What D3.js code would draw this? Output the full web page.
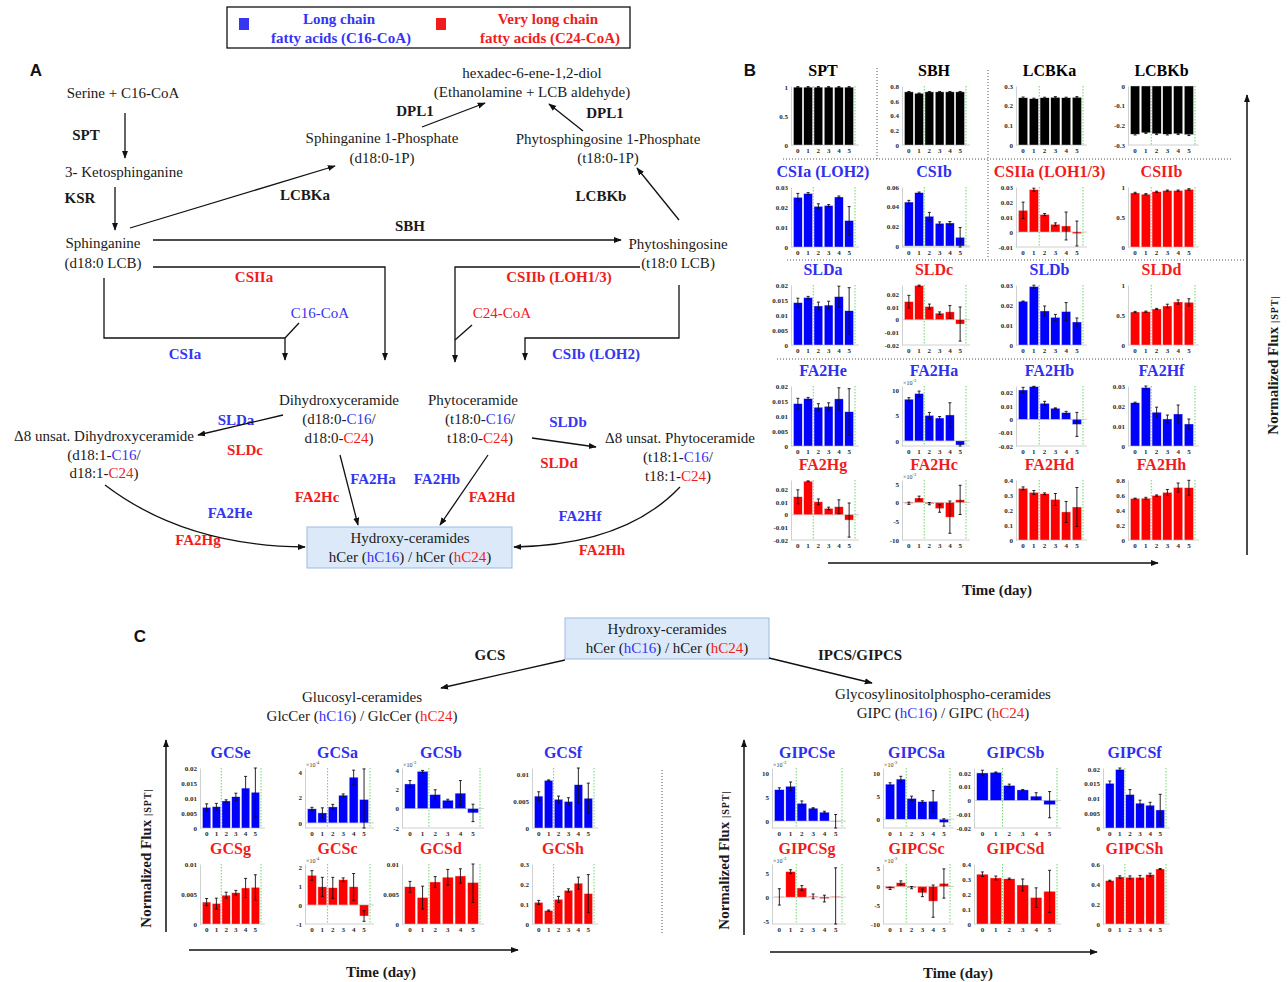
<!DOCTYPE html>
<html>
<head>
<meta charset="utf-8">
<script src="https://cdn.jsdelivr.net/npm/d3@7"></script>
<style>
  body { margin: 0; background: #fff; }
  svg { display: block; }
</style>
</head>
<body>
<div id="chart"></div>
<script>
// ---------- data ----------
const days = [0, 1, 2, 3, 4, 5];

// Panel B, read row by row (left to right)
const bTitles = ["SPT", "SBH", "LCBKa", "LCBKb",
  "CSIa (LOH2)", "CSIb", "CSIIa (LOH1/3)", "CSIIb",
  "SLDa", "SLDc", "SLDb", "SLDd",
  "FA2He", "FA2Ha", "FA2Hb", "FA2Hf",
  "FA2Hg", "FA2Hc", "FA2Hd", "FA2Hh"];
// none = shared step, long = C16-CoA, vlong = C24-CoA
const bChain = ["none", "none", "none", "none",
  "long", "long", "vlong", "vlong",
  "long", "vlong", "long", "vlong",
  "long", "long", "long", "long",
  "vlong", "vlong", "vlong", "vlong"];
const bValues = [
  [1, 1, 1, 1, 1, 1],
  [0.72, 0.70, 0.72, 0.72, 0.72, 0.72],
  [0.24, 0.235, 0.24, 0.242, 0.24, 0.242],
  [-0.245, -0.238, -0.243, -0.245, -0.243, -0.247],
  [0.0248, 0.0267, 0.0203, 0.0207, 0.025, 0.0132],
  [0.0447, 0.0542, 0.0302, 0.023, 0.0234, 0.0088],
  [0.0144, 0.0282, 0.0116, 0.0051, 0.004, -0.001],
  [0.90, 0.88, 0.92, 0.94, 0.94, 0.96],
  [0.0141, 0.0158, 0.013, 0.0133, 0.0161, 0.0114],
  [0.0143, 0.027, 0.0104, 0.0052, 0.0062, -0.0034],
  [0.0218, 0.0292, 0.017, 0.0138, 0.0167, 0.0115],
  [0.55, 0.555, 0.60, 0.65, 0.717, 0.711],
  [0.0141, 0.0158, 0.0129, 0.0132, 0.0157, 0.0114],
  [8.2, 9.3, 5.0, 4.5, 5.1, -0.8],
  [0.022, 0.0245, 0.012, 0.0083, 0.005, -0.0038],
  [0.0216, 0.0292, 0.0169, 0.0135, 0.016, 0.011],
  [0.0142, 0.0265, 0.0102, 0.005, 0.0063, -0.0042],
  [-0.2, 1.2, -0.3, -1.6, -3.9, 0.7],
  [0.344, 0.317, 0.308, 0.27, 0.187, 0.22],
  [0.553, 0.557, 0.593, 0.634, 0.70, 0.696]
];
const bErrors = [
  [0.01, 0.01, 0.01, 0.01, 0.01, 0.01],
  [0.006, 0.005, 0.005, 0.006, 0.005, 0.006],
  [0.004, 0.003, 0.003, 0.004, 0.003, 0.004],
  [0.004, 0.003, 0.004, 0.004, 0.004, 0.005],
  [0.002, 0.0005, 0.0013, 0.0005, 0.0005, 0.007],
  [0.0017, 0.0007, 0.004, 0.0015, 0.0015, 0.01],
  [0.0055, 0.001, 0.0007, 0.001, 0.0093, 0.0083],
  [0.012, 0.01, 0.01, 0.01, 0.01, 0.012],
  [0.0015, 0.0004, 0.0013, 0.0013, 0.0035, 0.0077],
  [0.005, 0.0004, 0.002, 0.001, 0.005, 0.0135],
  [0.0002, 0.0007, 0.0025, 0.0015, 0.0045, 0.002],
  [0.01, 0.01, 0.01, 0.03, 0.035, 0.06],
  [0.0018, 0.0004, 0.0012, 0.0012, 0.0037, 0.0077],
  [0.3, 0.5, 0.6, 0.3, 2.4, 0.2],
  [0.002, 0.0003, 0.0015, 0.0003, 0.001, 0.009],
  [0.0003, 0.0008, 0.0025, 0.002, 0.0045, 0.0025],
  [0.0055, 0.0003, 0.0023, 0.001, 0.0055, 0.0135],
  [0.3, 0.5, 0.3, 1.0, 4.3, 3.9],
  [0.01, 0.013, 0.006, 0.04, 0.07, 0.13],
  [0.005, 0.012, 0.008, 0.04, 0.06, 0.1]
];
const bTicks = [
  [0, 0.5, 1], [0, 0.2, 0.4, 0.6, 0.8], [0, 0.1, 0.2, 0.3], [-0.3, -0.2, -0.1, 0],
  [0, 0.01, 0.02, 0.03], [0, 0.02, 0.04, 0.06], [-0.01, 0, 0.01, 0.02, 0.03], [0, 0.5, 1],
  [0, 0.005, 0.01, 0.015, 0.02], [-0.02, -0.01, 0, 0.01, 0.02], [0, 0.01, 0.02, 0.03], [0, 0.5, 1],
  [0, 0.005, 0.01, 0.015, 0.02], [0, 5, 10], [-0.02, -0.01, 0, 0.01, 0.02], [0, 0.01, 0.02, 0.03],
  [-0.02, -0.01, 0, 0.01, 0.02], [-10, -5, 0, 5], [0, 0.1, 0.2, 0.3, 0.4], [0, 0.2, 0.4, 0.6, 0.8]
];
// power of ten printed above the axis (0 = none)
const bScale = [0, 0, 0, 0, 0, 0, 0, 0, 0, 0, 0, 0, 0, -3, 0, 0, 0, -3, 0, 0];

// Panel C, glucosyl-ceramide branch
const gcsTitles = ["GCSe", "GCSa", "GCSb", "GCSf", "GCSg", "GCSc", "GCSd", "GCSh"];
const gcsChain = ["long", "long", "long", "long", "vlong", "vlong", "vlong", "vlong"];
const gcsValues = [
  [0.00685, 0.0071, 0.009, 0.0104, 0.0133, 0.0119],
  [1.1, 0.78, 1.25, 2.17, 3.58, 1.83],
  [2.55, 3.85, 1.45, 0.87, 1.6, -0.44],
  [0.0059, 0.0088, 0.0053, 0.0049, 0.008, 0.0055],
  [0.00365, 0.0034, 0.0048, 0.0052, 0.006, 0.0061],
  [1.55, 0.95, 0.9, 1.32, 0.95, -0.58],
  [0.0062, 0.0044, 0.007, 0.0078, 0.008, 0.0069],
  [0.108, 0.067, 0.123, 0.168, 0.204, 0.152]
];
const gcsErrors = [
  [0.0012, 0.0011, 0.0004, 0.0012, 0.0039, 0.0083],
  [0.12, 0.4, 0.2, 0.1, 0.55, 2.4],
  [0.35, 0.1, 0.5, 0.1, 1.3, 0.9],
  [0.0008, 0.0001, 0.0006, 0.0007, 0.0034, 0.0028],
  [0.0006, 0.0009, 0.0005, 0.0004, 0.0016, 0.0021],
  [0.25, 0.5, 0.55, 0.1, 0.7, 0.28],
  [0.0009, 0.0019, 0.0009, 0.0013, 0.0012, 0.0033],
  [0.01, 0.003, 0.015, 0.008, 0.03, 0.095]
];
const gcsTicks = [
  [0, 0.005, 0.01, 0.015, 0.02], [0, 2, 4], [-2, 0, 2, 4], [0, 0.005, 0.01],
  [0, 0.005, 0.01], [-1, 0, 1, 2], [0, 0.005, 0.01], [0, 0.1, 0.2, 0.3]
];
const gcsScale = [0, -4, -3, 0, 0, -4, 0, 0];

// Panel C, GIPC branch
const gipcsTitles = ["GIPCSe", "GIPCSa", "GIPCSb", "GIPCSf", "GIPCSg", "GIPCSc", "GIPCSd", "GIPCSh"];
const gipcsChain = ["long", "long", "long", "long", "vlong", "vlong", "vlong", "vlong"];
const gipcsValues = [
  [6.5, 7.2, 3.66, 2.66, 1.83, -0.05],
  [7.6, 8.7, 4.5, 3.8, 3.9, -0.7],
  [0.0199, 0.0203, 0.0108, 0.0076, 0.0031, -0.0031],
  [0.0151, 0.0198, 0.0113, 0.0084, 0.0077, 0.0061],
  [0.05, 5.3, 1.9, 0.15, -0.3, 0.1],
  [-0.5, 1.0, -0.3, -1.7, -3.9, 0.8],
  [0.332, 0.307, 0.301, 0.26, 0.176, 0.218],
  [0.433, 0.47, 0.466, 0.466, 0.493, 0.55]
];
const gipcsErrors = [
  [0.4, 0.9, 0.5, 0.1, 0.2, 1.4],
  [0.3, 0.6, 0.5, 0.2, 2.3, 0.8],
  [0.002, 0.0003, 0.001, 0.0002, 0.0025, 0.0095],
  [0.0008, 0.0006, 0.0017, 0.001, 0.001, 0.0053],
  [1.7, 0.4, 0.5, 0.5, 0.7, 6],
  [0.3, 0.5, 0.3, 1.0, 4.3, 3.9],
  [0.015, 0.013, 0.005, 0.04, 0.065, 0.14],
  [0.005, 0.012, 0.015, 0.02, 0.015, 0.005]
];
const gipcsTicks = [
  [0, 5, 10], [0, 5, 10], [-0.02, -0.01, 0, 0.01, 0.02], [0, 0.005, 0.01, 0.015, 0.02],
  [-5, 0, 5], [-10, -5, 0, 5], [0, 0.1, 0.2, 0.3, 0.4], [0, 0.2, 0.4, 0.6]
];
const gipcsScale = [-3, -3, 0, 0, -3, -3, 0, 0];

// ---------- layout ----------
const W = 1288, H = 982;
const serif = "'Liberation Serif', 'Times New Roman', serif";
const barColor = {none: "#000000", long: "#0000ff", vlong: "#ff0000"};
const textColor = {none: "#000000", long: "#2f2ff0", vlong: "#f01c1c"};
const BLUE = "#3535f2", RED = "#f01c1c";

// axis limits of each small chart
const bLimits = [
  [0, 1.02], [0, 0.8], [0, 0.3], [-0.3, 0],
  [0, 0.03], [-0.001, 0.06], [-0.01, 0.03], [0, 1],
  [0, 0.02], [-0.02, 0.0275], [0, 0.03], [0, 1],
  [0, 0.02], [-1, 10.8], [-0.02, 0.025], [0, 0.03],
  [-0.02, 0.0275], [-10, 6], [0, 0.4], [0, 0.8]
];
const gcsLimits = [[0, 0.02], [-0.4, 4.3], [-2, 4.2], [0, 0.0111], [0, 0.01], [-1, 2.15], [0, 0.01], [0, 0.3]];
const gipcsLimits = [[-1.45, 11], [-1.9, 11.1], [-0.02, 0.0235], [0, 0.0203], [-5.6, 6.9], [-10, 6], [0, 0.4], [0, 0.6]];

const bCols = [[791, 855], [902, 966], [1016, 1083], [1128, 1195]];
const bRows = [[86, 145], [187, 247], [285, 345], [386, 446], [480, 540]];
const gcsCols = [[200, 261], [305, 370], [402, 480], [532, 594]];
const gipcsCols = [[772, 842], [883, 950], [974, 1057], [1103, 1166]];
const cRows = [[768, 828], [864, 924]];

const svg = d3.select("#chart").append("svg")
  .attr("width", W).attr("height", H)
  .attr("font-family", serif);

svg.append("rect").attr("width", W).attr("height", H).attr("fill", "#fff");

const defs = svg.append("defs");
defs.append("marker")
  .attr("id", "head")
  .attr("viewBox", "0 0 10 10")
  .attr("refX", 9).attr("refY", 5)
  .attr("markerWidth", 8).attr("markerHeight", 8)
  .attr("markerUnits", "userSpaceOnUse")
  .attr("orient", "auto")
  .append("path").attr("d", "M0,1.2L10,5L0,8.8z").attr("fill", "#111");

// ---------- helpers ----------
function label(x, y, str, opt) {
  opt = opt || {};
  return svg.append("text")
    .attr("x", x).attr("y", y)
    .attr("text-anchor", opt.anchor || "middle")
    .attr("font-size", opt.size || 15)
    .attr("font-weight", opt.bold ? "bold" : "normal")
    .attr("font-family", opt.family || serif)
    .attr("fill", opt.color || "#1a1a1a")
    .text(str);
}

// text made of [string, colour] pieces
function rich(x, y, parts, size) {
  const t = svg.append("text")
    .attr("x", x).attr("y", y)
    .attr("text-anchor", "middle")
    .attr("font-size", size || 15)
    .attr("fill", "#1a1a1a");
  parts.forEach(p => t.append("tspan").attr("fill", p[1] || "#1a1a1a").text(p[0]));
  return t;
}

function arrow(points, width) {
  svg.append("path")
    .attr("d", d3.line()(points))
    .attr("fill", "none")
    .attr("stroke", "#111")
    .attr("stroke-width", width || 1.3)
    .attr("marker-end", "url(#head)");
}

function line(points, width, dash) {
  svg.append("path")
    .attr("d", d3.line()(points))
    .attr("fill", "none")
    .attr("stroke", dash ? "#555" : "#111")
    .attr("stroke-width", width || 1.3)
    .attr("stroke-dasharray", dash || null);
}

function curve(d) {
  svg.append("path").attr("d", d)
    .attr("fill", "none").attr("stroke", "#111").attr("stroke-width", 1.3)
    .attr("marker-end", "url(#head)");
}

const fmt = d => String(+d.toFixed(4));

// one small bar chart with error bars
function miniChart(cfg) {
  const g = svg.append("g");
  const x = d3.scaleBand().domain(days)
    .range([cfg.x0 + 2, cfg.x1 - 1])
    .paddingInner(0.15).paddingOuter(0.05);
  const y = d3.scaleLinear().domain(cfg.limits).range([cfg.y1, cfg.y0]);
  const lo = cfg.limits[0], hi = cfg.limits[1];

  // x axis line + day labels
  g.append("line")
    .attr("x1", cfg.x0).attr("x2", cfg.x1 + 4)
    .attr("y1", cfg.y1).attr("y2", cfg.y1)
    .attr("stroke", "#d0d0d0").attr("stroke-width", 1);
  const xa = g.append("g").attr("transform", "translate(0," + cfg.y1 + ")")
    .call(d3.axisBottom(x).tickSize(0).tickPadding(3));
  xa.select(".domain").remove();

  // y axis
  const ya = g.append("g").attr("transform", "translate(" + cfg.x0 + ",0)")
    .call(d3.axisLeft(y).tickValues(cfg.ticks).tickSize(0).tickPadding(3).tickFormat(fmt));
  ya.select(".domain").attr("stroke", "#d0d0d0");

  g.selectAll(".tick text")
    .attr("font-family", serif)
    .attr("font-weight", "bold")
    .attr("font-size", 7)
    .attr("fill", "#2a2a2a");

  // zero line when the range crosses zero
  if (lo < 0 && hi > 0) {
    g.append("line")
      .attr("x1", cfg.x0).attr("x2", cfg.x1 + 4)
      .attr("y1", y(0)).attr("y2", y(0))
      .attr("stroke", "#d0d0d0").attr("stroke-width", 1);
  }

  // green dotted markers (between day 1 and 2, after day 5)
  const gap = x.step() * x.paddingInner() / 2;
  [x(2) - gap, cfg.x1].forEach(gx => {
    g.append("line")
      .attr("x1", gx).attr("x2", gx)
      .attr("y1", cfg.y0).attr("y2", cfg.y1)
      .attr("stroke", "#44cc44").attr("stroke-width", 0.8)
      .attr("stroke-dasharray", "1.5,1.5");
  });

  // bars
  g.selectAll("rect.bar").data(cfg.values).join("rect")
    .attr("class", "bar")
    .attr("x", (d, i) => x(days[i]))
    .attr("width", x.bandwidth())
    .attr("y", d => y(Math.min(Math.max(d, 0), hi)))
    .attr("height", d => Math.abs(y(d) - y(0)))
    .attr("fill", barColor[cfg.chain])
    .attr("stroke", "#e6e6e6").attr("stroke-width", 0.4);

  // error bars
  const eb = g.selectAll("g.err").data(cfg.values).join("g").attr("class", "err");
  const cx = i => x(days[i]) + x.bandwidth() / 2;
  const top = (d, i) => y(Math.min(d + cfg.errors[i], hi));
  const bot = (d, i) => y(Math.max(d - cfg.errors[i], lo));
  eb.append("line")
    .attr("x1", (d, i) => cx(i)).attr("x2", (d, i) => cx(i))
    .attr("y1", top).attr("y2", bot)
    .attr("stroke", "#111").attr("stroke-width", 0.9);
  eb.append("line")
    .attr("x1", (d, i) => cx(i) - 1.5).attr("x2", (d, i) => cx(i) + 1.5)
    .attr("y1", top).attr("y2", top)
    .attr("stroke", "#111").attr("stroke-width", 0.9);
  eb.append("line")
    .attr("x1", (d, i) => cx(i) - 1.5).attr("x2", (d, i) => cx(i) + 1.5)
    .attr("y1", bot).attr("y2", bot)
    .attr("stroke", "#111").attr("stroke-width", 0.9);

  // exponent note
  if (cfg.scale) {
    const t = g.append("text")
      .attr("x", cfg.x0 + 1).attr("y", cfg.y0 - 1)
      .attr("font-size", 6).attr("fill", "#333")
      .text("\u00d710");
    t.append("tspan").attr("dy", -3).attr("font-size", 4.5).text(String(cfg.scale));
  }

  // title
  g.append("text")
    .attr("x", (cfg.x0 + cfg.x1) / 2).attr("y", cfg.y0 - 10)
    .attr("text-anchor", "middle")
    .attr("font-size", 16).attr("font-weight", "bold")
    .attr("fill", textColor[cfg.chain])
    .text(cfg.title);
}

function chartGrid(titles, chain, values, errors, ticks, scale, limits, cols, rows) {
  titles.forEach((t, i) => {
    const c = cols[i % 4], r = rows[Math.floor(i / 4)];
    miniChart({
      title: t, chain: chain[i], values: values[i], errors: errors[i],
      ticks: ticks[i], scale: scale[i], limits: limits[i],
      x0: c[0], x1: c[1], y0: r[0], y1: r[1]
    });
  });
}

// ---------- legend ----------
svg.append("rect").attr("x", 227).attr("y", 7).attr("width", 403).attr("height", 41)
  .attr("fill", "#fff").attr("stroke", "#111").attr("stroke-width", 1.3);
svg.append("rect").attr("x", 239).attr("y", 18).attr("width", 10).attr("height", 12).attr("fill", BLUE);
svg.append("rect").attr("x", 436).attr("y", 18).attr("width", 10).attr("height", 12).attr("fill", RED);
label(339, 24, "Long chain", {bold: true, color: BLUE});
label(341, 43, "fatty acids (C16-CoA)", {bold: true, color: BLUE});
label(548, 24, "Very long chain", {bold: true, color: RED});
label(550, 43, "fatty acids (C24-CoA)", {bold: true, color: RED});

// panel letters
const sans = "'Liberation Sans', Arial, sans-serif";
label(36, 76, "A", {bold: true, size: 17, family: sans, color: "#111"});
label(750, 76, "B", {bold: true, size: 17, family: sans, color: "#111"});
label(140, 642, "C", {bold: true, size: 17, family: sans, color: "#111"});

// ---------- panel A: pathway ----------
label(532, 78, "hexadec-6-ene-1,2-diol");
label(532, 97, "(Ethanolamine + LCB aldehyde)");
label(123, 98, "Serine + C16-CoA");
label(415, 116, "DPL1", {bold: true});
label(605, 118, "DPL1", {bold: true});
label(382, 143, "Sphinganine 1-Phosphate");
label(382, 163, "(d18:0-1P)");
label(608, 144, "Phytosphingosine 1-Phosphate");
label(608, 163, "(t18:0-1P)");
label(86, 140, "SPT", {bold: true});
label(124, 177, "3- Ketosphinganine");
label(80, 203, "KSR", {bold: true});
label(305, 200, "LCBKa", {bold: true});
label(601, 201, "LCBKb", {bold: true});
label(410, 231, "SBH", {bold: true});
label(103, 248, "Sphinganine");
label(103, 268, "(d18:0 LCB)");
label(678, 249, "Phytoshingosine");
label(678, 268, "(t18:0 LCB)");
label(254, 282, "CSIIa", {bold: true, color: RED});
label(559, 282, "CSIIb (LOH1/3)", {bold: true, color: RED});
label(320, 318, "C16-CoA", {color: BLUE});
label(502, 318, "C24-CoA", {color: RED});
label(185, 359, "CSIa", {bold: true, color: BLUE});
label(596, 359, "CSIb (LOH2)", {bold: true, color: BLUE});

label(339, 405, "Dihydroxyceramide");
rich(339, 424, [["(d18:0-"], ["C16", BLUE], ["/"]]);
rich(339, 443, [["d18:0-"], ["C24", RED], [")"]]);
label(473, 405, "Phytoceramide");
rich(480, 424, [["(t18:0-"], ["C16", BLUE], ["/"]]);
rich(480, 443, [["t18:0-"], ["C24", RED], [")"]]);

label(236, 425, "SLDa", {bold: true, color: BLUE});
label(245, 455, "SLDc", {bold: true, color: RED});
label(104, 441, "\u03948 unsat. Dihydroxyceramide");
rich(104, 460, [["(d18:1-"], ["C16", BLUE], ["/"]]);
rich(104, 478, [["d18:1-"], ["C24", RED], [")"]]);

label(568, 427, "SLDb", {bold: true, color: BLUE});
label(559, 468, "SLDd", {bold: true, color: RED});
label(680, 443, "\u03948 unsat. Phytoceramide");
rich(678, 462, [["(t18:1-"], ["C16", BLUE], ["/"]]);
rich(678, 481, [["t18:1-"], ["C24", RED], [")"]]);

label(373, 484, "FA2Ha", {bold: true, color: BLUE});
label(317, 502, "FA2Hc", {bold: true, color: RED});
label(437, 484, "FA2Hb", {bold: true, color: BLUE});
label(492, 502, "FA2Hd", {bold: true, color: RED});
label(230, 518, "FA2He", {bold: true, color: BLUE});
label(198, 545, "FA2Hg", {bold: true, color: RED});
label(580, 521, "FA2Hf", {bold: true, color: BLUE});
label(602, 555, "FA2Hh", {bold: true, color: RED});

// hydroxy-ceramide box (panel A)
svg.append("rect").attr("x", 307).attr("y", 527).attr("width", 205).attr("height", 41)
  .attr("fill", "#dce9f8").attr("stroke", "#9dbbe0").attr("stroke-width", 1);
label(410, 543, "Hydroxy-ceramides");
rich(410, 562, [["hCer ("], ["hC16", BLUE], [") / hCer ("], ["hC24", RED], [")"]]);

// arrows panel A
arrow([[125, 113], [125, 158]]);
arrow([[115, 187], [115, 230]]);
arrow([[130, 228], [335, 166]]);
arrow([[679, 220], [637, 168]]);
arrow([[422, 127], [485, 103]]);
arrow([[583, 131], [549, 104]]);
arrow([[153, 240], [621, 240]]);
arrow([[153, 267], [385, 267], [385, 360]]);
arrow([[640, 267], [455, 267], [455, 362]]);
arrow([[104, 278], [104, 338], [285, 338], [285, 360]]);
line([[285, 338], [299, 323]]);
arrow([[679, 285], [679, 338], [525, 338], [525, 360]]);
line([[455, 340], [472, 325]]);
arrow([[283, 415], [198, 435]]);
arrow([[532, 438], [596, 447]]);
arrow([[340, 455], [358, 525]]);
arrow([[488, 455], [440, 525]]);
curve("M105,485 Q185,546 305,547");
curve("M680,487 Q625,545 514,547");

// ---------- panel B ----------
// dotted separators
line([[783, 159], [1232, 159]], 1, "1,2");
line([[877, 68], [877, 159]], 1, "1,2");
line([[988, 70], [988, 259]], 1, "1,2");
line([[787, 260], [1245, 260]], 1, "1,2");
line([[777, 359], [1185, 359]], 1, "1,2");

chartGrid(bTitles, bChain, bValues, bErrors, bTicks, bScale, bLimits, bCols, bRows);

arrow([[1247, 555], [1247, 95]], 1.5);
arrow([[828, 563], [1158, 563]], 1.5);
label(997, 595, "Time (day)", {bold: true});

function fluxLabel(x, y) {
  const t = svg.append("text")
    .attr("transform", "translate(" + x + "," + y + ") rotate(-90)")
    .attr("text-anchor", "middle")
    .attr("font-size", 15).attr("font-weight", "bold").attr("fill", "#1a1a1a")
    .text("Normalized Flux ");
  t.append("tspan").attr("font-size", 10).attr("letter-spacing", 1).text("|SPT|");
}
fluxLabel(1278, 365);

// ---------- panel C ----------
svg.append("rect").attr("x", 565).attr("y", 618).attr("width", 204).attr("height", 41)
  .attr("fill", "#dce9f8").attr("stroke", "#9dbbe0").attr("stroke-width", 1);
label(667, 634, "Hydroxy-ceramides");
rich(667, 653, [["hCer ("], ["hC16", BLUE], [") / hCer ("], ["hC24", RED], [")"]]);
label(490, 660, "GCS", {bold: true});
label(860, 660, "IPCS/GIPCS", {bold: true});
arrow([[565, 660], [441, 688]]);
arrow([[769, 658], [872, 683]]);
label(362, 702, "Glucosyl-ceramides");
rich(362, 721, [["GlcCer ("], ["hC16", BLUE], [") / GlcCer ("], ["hC24", RED], [")"]]);
label(943, 699, "Glycosylinositolphospho-ceramides");
rich(943, 718, [["GIPC ("], ["hC16", BLUE], [") / GIPC ("], ["hC24", RED], [")"]]);

chartGrid(gcsTitles, gcsChain, gcsValues, gcsErrors, gcsTicks, gcsScale, gcsLimits, gcsCols, cRows);
chartGrid(gipcsTitles, gipcsChain, gipcsValues, gipcsErrors, gipcsTicks, gipcsScale, gipcsLimits, gipcsCols, cRows);

line([[662, 770], [662, 935]], 1, "1,2");

arrow([[166, 932], [166, 740]], 1.5);
arrow([[189, 950], [518, 950]], 1.5);
label(381, 977, "Time (day)", {bold: true});
fluxLabel(151, 858);

arrow([[744, 935], [744, 740]], 1.5);
arrow([[770, 952], [1097, 952]], 1.5);
label(958, 978, "Time (day)", {bold: true});
fluxLabel(729, 860);
</script>
</body>
</html>
